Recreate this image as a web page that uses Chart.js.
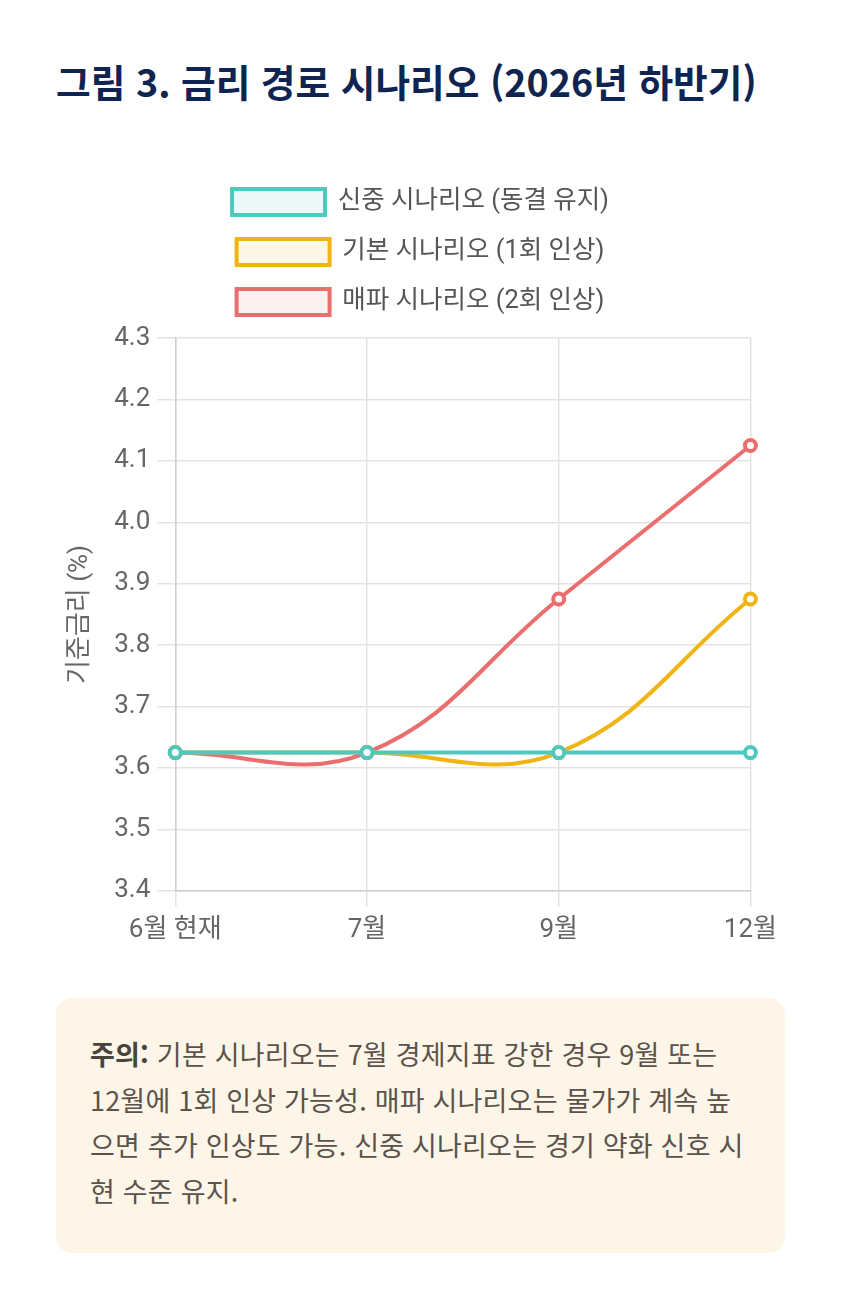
<!DOCTYPE html>
<html lang="ko">
<head>
<meta charset="utf-8">
<script src="https://cdn.jsdelivr.net/npm/chart.js@4.4.1/dist/chart.umd.min.js"></script>
<style>
  html, body { margin: 0; padding: 0; background: #ffffff; }
  body { width: 841px; height: 1309px; position: relative; font-family: "Noto Sans CJK KR", "Noto Sans", sans-serif; }
  h1 { position: absolute; left: 56px; top: 58px; margin: 0; font-size: 37.7px; line-height: 46px; font-weight: 700; color: #0f2451; white-space: nowrap; font-family: "Noto Sans CJK KR", sans-serif; }
  #wrap { position: absolute; left: 56px; top: 165px; width: 729px; height: 800px; }
  .note { position: absolute; left: 56px; top: 998px; width: 729px; height: 255px; box-sizing: border-box; background: #fdf6e8; border-radius: 16px; padding: 33px 20px 0 34px; font-size: 27px; letter-spacing: 0.2px; line-height: 45.5px; color: #5b524b; white-space: nowrap; font-family: "Noto Sans CJK KR", sans-serif; }
  .note .ln { display: block; }
  .note b { color: #4a423c; font-weight: 700; }
</style>
</head>
<body>
<h1>그림 3. 금리 경로 시나리오 (2026년 하반기)</h1>
<div id="wrap"><canvas id="c"></canvas></div>
<div class="note"><span class="ln"><b>주의:</b> 기본 시나리오는 7월 경제지표 강한 경우 9월 또는</span><span class="ln">12월에 1회 인상 가능성. 매파 시나리오는 물가가 계속 높</span><span class="ln">으면 추가 인상도 가능. 신중 시나리오는 경기 약화 신호 시</span><span class="ln">현 수준 유지.</span></div>
<script>
const categories = ["6월 현재", "7월", "9월", "12월"];
const seriesNames = ["신중 시나리오 (동결 유지)", "기본 시나리오 (1회 인상)", "매파 시나리오 (2회 인상)"];
const cautiousValues = [3.625, 3.625, 3.625, 3.625];
const baseValues = [3.625, 3.625, 3.625, 3.875];
const hawkishValues = [3.625, 3.625, 3.875, 4.125];
const yTickMin = 3.4, yTickMax = 4.3, yTickStep = 0.1;
const yAxisTitle = "기준금리 (%)";

const colors = ["#4fc9bf", "#f0b514", "#ea6e6e"];
const fills = ["rgba(79,201,191,0.1)", "rgba(240,181,20,0.1)", "rgba(234,110,110,0.1)"];
const seriesData = [cautiousValues, baseValues, hawkishValues];
const FONT = "Roboto, 'Noto Sans CJK KR', sans-serif";

const datasets = seriesData.map((d, i) => ({
  label: seriesNames[i],
  data: d,
  borderColor: colors[i],
  backgroundColor: fills[i],
  pointBackgroundColor: "#ffffff",
  pointBorderColor: colors[i],
  pointBorderWidth: 4,
  pointRadius: 5.5,
  borderWidth: 4,
  tension: 0.4,
  fill: false,
  order: i,
  yAxisID: "y"
}));

const legendSpacer = {
  id: "legendSpacer",
  beforeInit(chart) {
    const origFit = chart.legend.fit;
    chart.legend.fit = function () {
      origFit.bind(chart.legend)();
      this.height += 13;
    };
  }
};

new Chart(document.getElementById("c"), {
  type: "line",
  data: { labels: categories, datasets },
  plugins: [legendSpacer],
  options: {
    responsive: true,
    maintainAspectRatio: false,
    animation: false,
    layout: { padding: { left: 0, right: 0, top: 0, bottom: 11 } },
    plugins: {
      legend: {
        position: "top",
        labels: {
          boxWidth: 93,
          boxHeight: 26,
          padding: 24,
          color: "#555555",
          font: { size: 25.5, family: FONT }
        }
      },
      tooltip: { enabled: false }
    },
    scales: {
      x: {
        offset: false,
        grid: { color: "#e3e3e3", lineWidth: 1.5, tickLength: 16 },
        border: { color: "#cfcfcf", width: 1.5 },
        ticks: { color: "#666666", padding: 8, maxRotation: 0, font: { size: 26, family: FONT } }
      },
      y: {
        min: yTickMin,
        max: yTickMax,
        grid: { color: "#e3e3e3", lineWidth: 1.5, tickLength: 18 },
        border: { color: "#cfcfcf", width: 1.5 },
        ticks: {
          stepSize: yTickStep,
          color: "#666666",
          padding: 7,
          font: { size: 26, family: FONT },
          callback: v => Number(v).toFixed(1)
        },
        title: {
          display: true,
          text: yAxisTitle,
          color: "#666666",
          padding: { top: 9, bottom: 11 },
          font: { size: 26, family: FONT }
        }
      },
      yRight: {
        position: "right",
        display: true,
        grid: { display: false, drawTicks: false },
        border: { display: false },
        ticks: { display: false },
        afterFit(scale) { scale.width = 34; }
      }
    }
  }
});
</script>
</body>
</html>
